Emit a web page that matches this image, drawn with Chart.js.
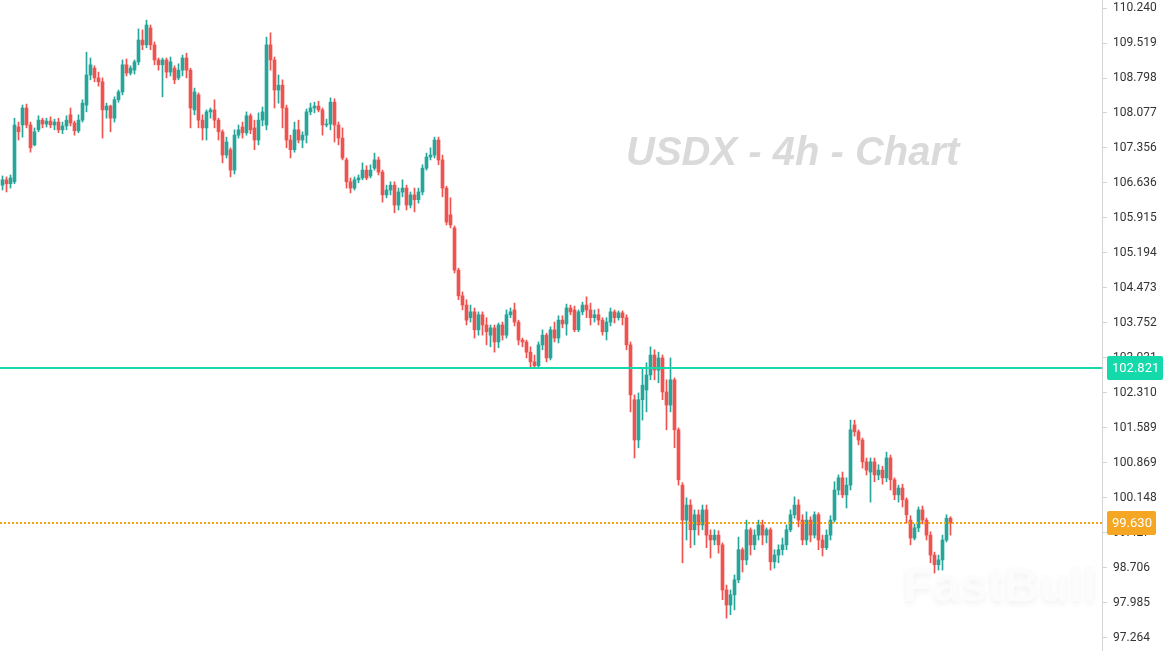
<!DOCTYPE html>
<html>
<head>
<meta charset="utf-8">
<title>USDX - 4h - Chart</title>
<script src="https://cdn.jsdelivr.net/npm/chart.js"></script>
<style>
	html, body { margin: 0; padding: 0; background: #fff; }
	#graficoUsdx { display: block; }
</style>
</head>
<body>
<canvas id="graficoUsdx" width="1168" height="651"></canvas>
<script>
var opens = [
	106.59,106.70,106.62,106.66,107.79,107.83,108.18,107.83,107.42,107.73,
	107.93,107.85,107.91,107.83,107.89,107.73,107.81,108.04,107.87,107.71,
	107.93,108.24,108.86,109.00,108.80,108.72,108.14,108.22,107.97,108.35,
	108.51,109.07,108.90,108.96,109.13,109.58,109.48,109.83,109.48,109.17,
	109.07,109.17,108.92,109.00,108.80,108.96,109.21,108.96,108.14,108.45,
	107.93,107.77,108.10,108.14,107.93,107.69,107.21,107.32,106.90,107.62,
	107.79,107.67,108.02,107.77,107.52,107.93,107.83,109.48,109.17,108.55,
	108.65,108.18,107.52,107.32,107.73,107.52,107.62,108.10,108.18,108.22,
	108.14,107.83,107.85,108.30,107.83,107.56,107.11,106.66,106.53,106.70,
	106.74,106.90,106.78,106.94,107.11,106.86,106.39,106.49,106.59,106.18,
	106.45,106.53,106.18,106.39,106.29,106.45,106.94,107.17,107.21,107.52,
	107.11,106.53,105.98,105.71,104.84,104.31,104.12,103.86,103.98,103.61,
	103.92,103.71,103.50,103.65,103.36,103.71,103.50,103.92,104.02,103.77,
	103.40,103.36,103.15,102.95,102.87,103.30,103.50,103.03,103.61,103.44,
	103.81,103.73,104.06,104.02,103.61,103.98,104.12,104.02,103.86,103.92,
	103.81,103.57,103.77,103.98,103.86,103.96,103.86,103.30,102.17,101.34,
	102.17,102.37,102.68,103.09,102.78,103.03,102.33,102.06,102.58,101.55,
	100.41,99.69,100.00,99.49,99.80,99.59,99.90,99.38,99.28,99.38,
	99.18,98.25,97.94,98.15,98.46,99.08,98.87,99.49,99.18,99.38,
	99.59,99.38,99.49,98.83,98.97,99.08,99.18,99.49,99.80,100.00,
	99.69,99.28,99.69,99.38,99.80,99.28,99.12,99.38,99.69,100.31,
	100.56,100.21,100.41,101.65,101.51,101.34,100.89,100.68,100.89,100.62,
	100.72,100.56,100.97,100.52,100.21,100.35,100.11,99.69,99.32,99.53,
	99.90,99.69,99.38,98.97,98.77,98.87,99.28,99.73
];
var highs = [
	106.78,106.76,106.80,107.97,107.89,108.24,108.26,107.89,107.77,108.02,
	107.97,107.97,108.00,107.95,107.97,107.89,108.02,108.18,107.91,108.04,
	108.35,109.33,109.21,109.05,108.92,108.80,108.28,108.24,108.41,108.55,
	109.17,109.19,109.05,109.17,109.81,109.79,109.99,109.89,109.54,109.21,
	109.21,109.21,109.23,109.05,109.09,109.27,109.31,109.00,108.59,108.49,
	108.04,108.14,108.18,108.35,107.97,107.73,107.58,107.36,107.73,107.83,
	107.89,108.10,108.06,107.93,108.08,108.20,109.64,109.73,109.23,108.86,
	108.76,108.24,107.62,107.89,107.93,107.69,108.16,108.28,108.30,108.32,
	108.18,107.95,108.39,108.37,107.89,107.77,107.15,106.74,106.76,106.80,
	107.05,106.99,107.01,107.25,107.17,106.90,106.59,106.66,106.66,106.53,
	106.70,106.59,106.45,106.53,106.53,107.01,107.25,107.36,107.58,107.58,
	107.21,106.57,106.33,105.75,104.88,104.39,104.23,104.12,104.06,103.98,
	103.98,103.86,103.71,103.71,103.75,103.77,104.02,104.06,104.16,103.81,
	103.44,103.40,103.26,103.09,103.36,103.61,103.54,103.67,103.77,103.90,
	103.90,104.14,104.12,104.10,104.02,104.18,104.29,104.16,104.02,104.04,
	103.86,103.86,104.06,104.02,104.00,104.00,103.92,103.36,102.27,102.31,
	102.82,102.93,103.26,103.20,103.15,103.09,102.58,103.03,102.62,101.59,
	100.46,100.15,100.11,99.90,99.90,100.00,100.00,99.49,99.49,99.47,
	99.22,98.35,98.25,98.56,99.34,99.12,99.69,99.53,99.49,99.69,
	99.69,99.53,99.53,99.08,99.18,99.32,99.59,99.90,100.17,100.11,
	99.80,99.86,99.76,99.86,99.84,99.38,99.49,99.78,100.48,100.62,
	100.68,100.56,101.75,101.75,101.55,101.38,100.97,100.97,100.97,100.83,
	100.80,101.09,101.03,100.56,100.41,100.43,100.15,99.78,99.61,99.96,
	99.98,99.73,99.45,99.03,98.97,99.38,99.80,99.76
];
var lows = [
	106.49,106.45,106.53,106.62,107.52,107.58,107.77,107.27,107.40,107.69,
	107.77,107.79,107.77,107.73,107.67,107.65,107.73,107.81,107.62,107.67,
	107.89,108.10,108.76,108.72,108.63,107.56,107.97,107.69,107.89,108.30,
	108.45,108.84,108.86,108.88,109.07,109.38,109.42,109.38,109.07,108.96,
	108.41,108.80,108.84,108.68,108.76,108.84,108.80,107.77,108.04,107.77,
	107.52,107.52,107.97,107.77,107.52,107.05,107.15,106.76,106.82,107.56,
	107.56,107.62,107.65,107.32,107.42,107.81,107.73,108.96,108.18,108.28,
	107.77,107.36,107.15,107.27,107.46,107.36,107.46,108.04,108.08,108.10,
	107.62,107.79,107.73,107.48,107.42,107.11,106.53,106.43,106.49,106.64,
	106.70,106.70,106.74,106.90,106.80,106.24,106.33,106.39,106.02,106.08,
	106.35,106.08,106.12,106.04,106.22,106.39,106.90,107.11,107.15,107.01,
	106.35,105.77,105.71,104.78,104.23,104.02,103.71,103.77,103.44,103.50,
	103.50,103.30,103.26,103.15,103.24,103.40,103.44,103.86,103.69,103.30,
	103.26,103.03,102.85,102.82,102.82,103.20,102.95,102.99,103.36,103.34,
	103.65,103.50,103.92,103.57,103.57,103.92,103.86,103.71,103.77,103.71,
	103.50,103.40,103.69,103.75,103.81,103.71,103.20,101.92,100.97,101.18,
	101.75,101.92,102.58,102.58,102.52,102.17,101.55,101.92,101.18,100.41,
	98.81,99.28,99.12,99.18,99.38,99.49,99.12,98.91,99.18,99.01,
	98.05,97.67,97.74,97.84,98.40,98.62,98.77,98.97,99.08,99.28,
	99.18,99.22,98.66,98.70,98.81,98.97,99.08,99.45,99.73,99.55,
	99.18,99.18,99.24,99.32,99.08,98.95,99.08,99.28,99.65,100.21,
	100.15,99.94,100.31,101.42,101.24,100.76,100.62,100.06,100.48,100.52,
	100.43,100.48,100.31,100.11,100.06,99.96,99.63,99.18,99.28,99.45,
	99.61,99.28,98.81,98.60,98.66,98.66,99.24,99.38
];
var closes = [
	106.70,106.62,106.74,107.83,107.69,108.18,107.83,107.36,107.69,107.93,
	107.85,107.91,107.83,107.89,107.73,107.81,107.93,107.87,107.71,107.93,
	108.28,108.86,109.07,108.80,108.72,108.14,108.22,107.97,108.35,108.51,
	109.07,108.90,109.00,109.13,109.58,109.48,109.89,109.48,109.17,109.07,
	109.17,108.92,109.13,108.76,108.96,109.21,108.96,108.18,108.51,107.93,
	107.77,108.10,108.14,107.93,107.69,107.21,107.48,106.90,107.62,107.73,
	107.67,108.02,107.73,107.52,107.93,108.10,109.48,109.17,108.55,108.65,
	108.18,107.52,107.32,107.73,107.52,107.62,108.10,108.18,108.22,108.14,
	107.83,107.85,108.30,107.83,107.56,107.15,106.66,106.53,106.70,106.74,
	106.90,106.74,106.90,107.11,106.86,106.39,106.49,106.59,106.18,106.45,
	106.53,106.18,106.39,106.29,106.45,106.94,107.17,107.21,107.52,107.11,
	106.53,105.83,105.77,104.84,104.31,104.12,103.81,103.98,103.61,103.92,
	103.71,103.57,103.65,103.36,103.71,103.50,103.92,103.98,103.77,103.40,
	103.36,103.15,102.95,102.87,103.30,103.50,103.03,103.61,103.44,103.81,
	103.73,104.06,103.98,103.61,103.98,104.12,104.02,103.86,103.92,103.81,
	103.57,103.77,103.98,103.86,103.96,103.86,103.30,102.27,101.34,102.17,
	102.47,102.68,103.09,102.78,103.03,102.33,102.06,102.58,101.55,100.52,
	99.69,100.00,99.49,99.80,99.59,99.90,99.38,99.28,99.38,99.18,
	98.25,97.94,98.15,98.46,99.08,98.87,99.49,99.18,99.38,99.59,
	99.38,99.49,98.83,98.97,99.08,99.18,99.49,99.80,100.00,99.69,
	99.28,99.69,99.38,99.80,99.28,99.12,99.38,99.69,100.31,100.56,
	100.21,100.41,101.55,101.51,101.34,100.89,100.72,100.89,100.62,100.72,
	100.56,100.97,100.52,100.21,100.35,100.11,99.80,99.32,99.53,99.90,
	99.69,99.38,98.97,98.77,98.87,99.28,99.73,99.63
];
var tickLabels = [
	110.240, 109.519, 108.798, 108.077, 107.356, 106.636, 105.915, 105.194, 104.473, 103.752,
	103.031, 102.310, 101.589, 100.869, 100.148, 99.427, 98.706, 97.985, 97.264
];
var levelPrice = 102.821;
var lastPrice = 99.630;
var chartTitle = 'USDX - 4h - Chart';
var watermark = 'FastBull';

var Usdx = Usdx || {};

Usdx.Grafico = (function() {

	var VERDE = '#26a69a';
	var VERMELHO = '#ef5350';

	function Grafico() {
		this.ctx = document.getElementById('graficoUsdx').getContext('2d');
	}

	function desenhaEtiqueta(ctx, escala, valor, cor, texto) {
		var y = Math.round(escala.getPixelForValue(valor));
		ctx.font = '13px Roboto';
		var largura = Math.round(ctx.measureText(texto).width) + 9;
		ctx.fillStyle = cor;
		ctx.beginPath();
		if (ctx.roundRect) {
			ctx.roundRect(escala.left + 5, y - 12, largura, 24, 2);
		} else {
			ctx.rect(escala.left + 5, y - 12, largura, 24);
		}
		ctx.fill();
		ctx.fillStyle = '#ffffff';
		ctx.textBaseline = 'middle';
		ctx.textAlign = 'left';
		ctx.fillText(texto, escala.left + 10, y + 1);
	}

	var marcaDagua = {
		id: 'marcaDagua',
		beforeDatasetsDraw: function(chart) {
			var ctx = chart.ctx;
			ctx.save();
			ctx.font = 'italic bold 40px "Liberation Sans", Arial, sans-serif';
			ctx.fillStyle = '#dadada';
			ctx.textBaseline = 'alphabetic';
			ctx.fillText(chartTitle, 626, 165);

			ctx.font = 'bold 49px "Liberation Sans", Arial, sans-serif';
			ctx.shadowColor = 'rgba(0,0,0,0.06)';
			ctx.shadowBlur = 6;
			ctx.shadowOffsetY = 3;
			ctx.fillStyle = '#fcfcfc';
			ctx.fillText(watermark, 903, 601);
			ctx.restore();
		}
	};

	var linhasPreco = {
		id: 'linhasPreco',
		afterDatasetsDraw: function(chart) {
			var ctx = chart.ctx;
			var area = chart.chartArea;
			var escala = chart.scales.y;
			ctx.save();
			var yNivel = Math.round(escala.getPixelForValue(levelPrice));
			ctx.strokeStyle = '#14d9aa';
			ctx.lineWidth = 2;
			ctx.beginPath();
			ctx.moveTo(area.left, yNivel);
			ctx.lineTo(area.right, yNivel);
			ctx.stroke();

			/* linha pontilhada do ultimo preco */
			var yUltimo = Math.round(escala.getPixelForValue(lastPrice));
			ctx.strokeStyle = '#f5a20f';
			ctx.lineWidth = 2;
			ctx.setLineDash([2, 2]);
			ctx.beginPath();
			ctx.moveTo(area.left, yUltimo);
			ctx.lineTo(area.right, yUltimo);
			ctx.stroke();
			ctx.restore();
		},
		afterDraw: function(chart) {
			var ctx = chart.ctx;
			var escala = chart.scales.y;
			ctx.save();
			desenhaEtiqueta(ctx, escala, levelPrice, '#14d9aa', levelPrice.toFixed(3));
			desenhaEtiqueta(ctx, escala, lastPrice, '#f5a623', lastPrice.toFixed(3));
			ctx.restore();
		}
	};

	Grafico.prototype.iniciar = function() {
		var corpos = [], pavios = [], cores = [];
		for (var i = 0; i < closes.length; i++) {
			corpos.push({ x: i, y: [opens[i], closes[i]] });
			pavios.push({ x: i, y: [lows[i], highs[i]] });
			cores.push(closes[i] >= opens[i] ? VERDE : VERMELHO);
		}

		var grafico = new Chart(this.ctx, {
			type: 'bar',
			data: {
				datasets: [{
					label: 'corpo',
					data: corpos,
					backgroundColor: cores,
					barThickness: 3,
					minBarLength: 1,
					grouped: false,
					order: 0
				}, {
					label: 'pavio',
					data: pavios,
					backgroundColor: cores,
					barThickness: 1,
					grouped: false,
					order: 1
				}]
			},
			options: {
				responsive: false,
				animation: false,
				devicePixelRatio: 1,
				layout: { padding: 0 },
				plugins: {
					legend: { display: false },
					tooltip: { enabled: false }
				},
				scales: {
					x: {
						type: 'linear',
						offset: false,
						min: -0.625,
						max: 274.875,
						display: false
					},
					y: {
						position: 'right',
						min: 96.993,
						max: 110.405,
						afterBuildTicks: function(escala) {
							escala.ticks = tickLabels.map(function(v) { return { value: v }; });
						},
						afterFit: function(escala) {
							/* a area do grafico vai do topo ao fundo do canvas */
							escala.width = 66;
							escala.paddingTop = 0;
							escala.paddingBottom = 0;
						},
						grid: {
							drawOnChartArea: false,
							drawTicks: true,
							tickLength: 5,
							tickColor: '#d4d4d4'
						},
						border: { display: true, color: '#d4d4d4' },
						ticks: {
							autoSkip: false,
							padding: 6,
							color: '#333333',
							font: { family: 'Roboto', size: 12 },
							callback: function(v) { return Number(v).toFixed(3); }
						}
					}
				}
			},
			plugins: [marcaDagua, linhasPreco]
		});
	};

	return Grafico;

}());

window.addEventListener('load', function() {
	var grafico = new Usdx.Grafico();
	grafico.iniciar();
});
</script>
</body>
</html>
